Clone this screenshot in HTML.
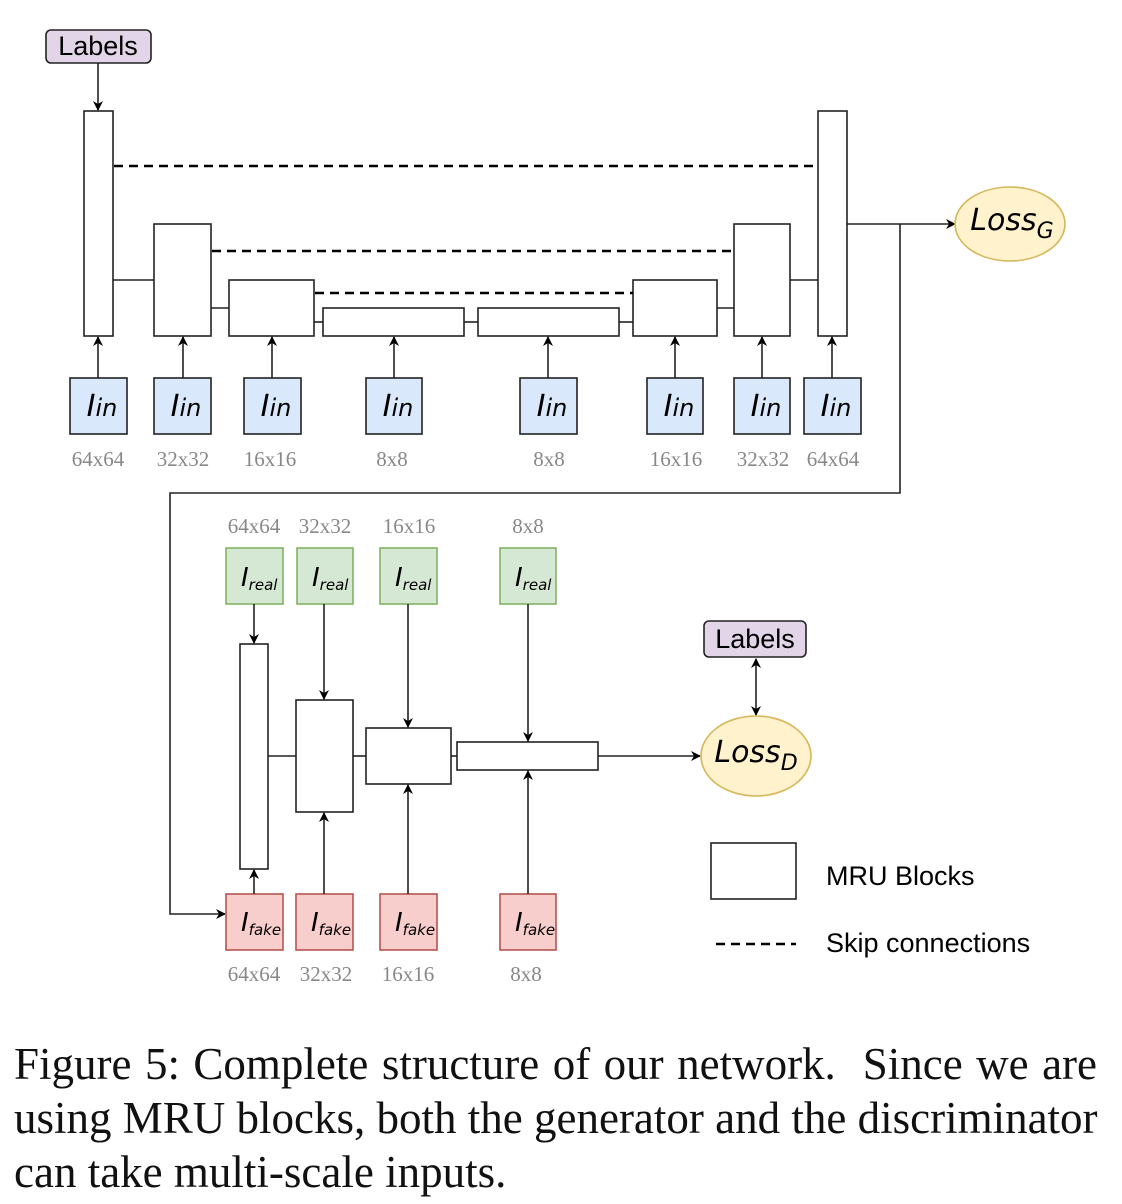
<!DOCTYPE html>
<html><head><meta charset="utf-8"><style>
html,body{margin:0;padding:0;background:#fff;}
svg{display:block;}
.cap{position:absolute;left:14px;width:1083px;font-family:"Liberation Serif",serif;font-size:45px;line-height:54px;color:#111;white-space:nowrap;}
.j{text-align:justify;text-align-last:justify;}
</style></head><body>
<div style="position:relative;width:1122px;height:1204px;">
<svg width="1122" height="1204" viewBox="0 0 1122 1204" xmlns="http://www.w3.org/2000/svg">
<defs>
<marker id="a" markerWidth="10" markerHeight="10" refX="9" refY="5" orient="auto" markerUnits="userSpaceOnUse">
<path d="M0,0 L10,5 L0,10 L3,5 z" fill="#000"/></marker>
<marker id="as" markerWidth="10" markerHeight="10" refX="1" refY="5" orient="auto" markerUnits="userSpaceOnUse">
<path d="M10,0 L0,5 L10,10 L7,5 z" fill="#000"/></marker>
</defs>
<g stroke="#222" stroke-width="1.6" fill="none">
<rect x="46" y="30" width="105" height="33" rx="5" fill="#e1d5e7"/>
<line x1="98" y1="63" x2="98" y2="110" marker-end="url(#a)"/>
<rect x="84" y="111" width="29" height="225" fill="#fff"/>
<rect x="154" y="224" width="57" height="112" fill="#fff"/>
<rect x="229" y="280" width="85" height="56" fill="#fff"/>
<rect x="323" y="308" width="141" height="28" fill="#fff"/>
<rect x="478" y="308" width="141" height="28" fill="#fff"/>
<rect x="633" y="280" width="84" height="56" fill="#fff"/>
<rect x="734" y="224" width="56" height="112" fill="#fff"/>
<rect x="818" y="111" width="29" height="225" fill="#fff"/>
<line x1="113" y1="280" x2="154" y2="280"/>
<line x1="211" y1="308" x2="229" y2="308"/>
<line x1="314" y1="322" x2="323" y2="322"/>
<line x1="464" y1="322" x2="478" y2="322"/>
<line x1="619" y1="322" x2="633" y2="322"/>
<line x1="717" y1="308" x2="734" y2="308"/>
<line x1="790" y1="280" x2="818" y2="280"/>
</g>
<g stroke="#000" stroke-width="2.5" stroke-dasharray="9,6">
<line x1="114" y1="166" x2="818" y2="166"/>
<line x1="212" y1="251" x2="734" y2="251"/>
<line x1="315" y1="293" x2="633" y2="293"/>
</g>
<g stroke="#222" stroke-width="1.6">
<rect x="70" y="378" width="57" height="56" fill="#dae8fc"/>
<rect x="154" y="378" width="57" height="56" fill="#dae8fc"/>
<rect x="244" y="378" width="57" height="56" fill="#dae8fc"/>
<rect x="366" y="378" width="56" height="56" fill="#dae8fc"/>
<rect x="520" y="378" width="57" height="56" fill="#dae8fc"/>
<rect x="647" y="378" width="56" height="56" fill="#dae8fc"/>
<rect x="734" y="378" width="56" height="56" fill="#dae8fc"/>
<rect x="804" y="378" width="57" height="56" fill="#dae8fc"/>
<line x1="98" y1="378" x2="98" y2="337" marker-end="url(#a)"/>
<line x1="183" y1="378" x2="183" y2="337" marker-end="url(#a)"/>
<line x1="272" y1="378" x2="272" y2="337" marker-end="url(#a)"/>
<line x1="394" y1="378" x2="394" y2="337" marker-end="url(#a)"/>
<line x1="548" y1="378" x2="548" y2="337" marker-end="url(#a)"/>
<line x1="675" y1="378" x2="675" y2="337" marker-end="url(#a)"/>
<line x1="762" y1="378" x2="762" y2="337" marker-end="url(#a)"/>
<line x1="832" y1="378" x2="832" y2="337" marker-end="url(#a)"/>
<line x1="847" y1="224" x2="955" y2="224" marker-end="url(#a)"/>
<polyline points="900,224 900,493 170,493 170,914 225,914" fill="none" marker-end="url(#a)"/>
<ellipse cx="1010" cy="224" rx="55" ry="37" fill="#fff2cc" stroke="#d6b656"/>
</g>
<g stroke="#222" stroke-width="1.6">
<rect x="226" y="548" width="57" height="56" fill="#d5e8d4" stroke="#82b366"/>
<rect x="297" y="548" width="56" height="56" fill="#d5e8d4" stroke="#82b366"/>
<rect x="380" y="548" width="57" height="56" fill="#d5e8d4" stroke="#82b366"/>
<rect x="500" y="548" width="56" height="56" fill="#d5e8d4" stroke="#82b366"/>
<rect x="226" y="894" width="57" height="56" fill="#f8cecc" stroke="#b85450"/>
<rect x="296" y="894" width="57" height="56" fill="#f8cecc" stroke="#b85450"/>
<rect x="380" y="894" width="57" height="56" fill="#f8cecc" stroke="#b85450"/>
<rect x="500" y="894" width="56" height="56" fill="#f8cecc" stroke="#b85450"/>
<rect x="240" y="644" width="28" height="225" fill="#fff"/>
<rect x="296" y="700" width="57" height="112" fill="#fff"/>
<rect x="366" y="728" width="85" height="56" fill="#fff"/>
<rect x="457" y="742" width="141" height="28" fill="#fff"/>
<line x1="268" y1="756" x2="296" y2="756"/>
<line x1="353" y1="756" x2="366" y2="756"/>
<line x1="451" y1="756" x2="457" y2="756"/>
<line x1="598" y1="756" x2="700" y2="756" marker-end="url(#a)"/>
<line x1="254" y1="604" x2="254" y2="643" marker-end="url(#a)"/>
<line x1="324" y1="604" x2="324" y2="699" marker-end="url(#a)"/>
<line x1="408" y1="604" x2="408" y2="727" marker-end="url(#a)"/>
<line x1="528" y1="604" x2="528" y2="741" marker-end="url(#a)"/>
<line x1="254" y1="894" x2="254" y2="870" marker-end="url(#a)"/>
<line x1="324" y1="894" x2="324" y2="813" marker-end="url(#a)"/>
<line x1="408" y1="894" x2="408" y2="785" marker-end="url(#a)"/>
<line x1="528" y1="894" x2="528" y2="771" marker-end="url(#a)"/>
<rect x="704" y="621" width="102" height="36" rx="5" fill="#e1d5e7"/>
<line x1="756" y1="659" x2="756" y2="715" marker-start="url(#as)" marker-end="url(#a)"/>
<ellipse cx="756" cy="756" rx="55" ry="40" fill="#fff2cc" stroke="#d6b656"/>
<rect x="711" y="843" width="85" height="56" fill="#fff"/>
</g>
<line x1="716" y1="944" x2="796" y2="944" stroke="#000" stroke-width="2.5" stroke-dasharray="9,6"/>
<g font-family="Liberation Sans,sans-serif" font-size="27" fill="#000">
<text x="98" y="55" text-anchor="middle">Labels</text>
<text x="755" y="648" text-anchor="middle">Labels</text>
<text x="826" y="885">MRU Blocks</text>
<text x="826" y="952">Skip connections</text>
</g>
<g font-family="DejaVu Sans,sans-serif" font-style="italic" font-size="30" fill="#000" text-anchor="middle">
<text x="102" y="416">I<tspan font-size="24">in</tspan></text>
<text x="186" y="416">I<tspan font-size="24">in</tspan></text>
<text x="276" y="416">I<tspan font-size="24">in</tspan></text>
<text x="398" y="416">I<tspan font-size="24">in</tspan></text>
<text x="552" y="416">I<tspan font-size="24">in</tspan></text>
<text x="679" y="416">I<tspan font-size="24">in</tspan></text>
<text x="766" y="416">I<tspan font-size="24">in</tspan></text>
<text x="836" y="416">I<tspan font-size="24">in</tspan></text>
<text x="1012" y="230" font-size="30">Loss<tspan font-size="22" dy="8">G</tspan></text>
<text x="756" y="762" font-size="30">Loss<tspan font-size="22" dy="8">D</tspan></text>
</g>
<g font-family="DejaVu Sans,sans-serif" font-style="italic" font-size="26" fill="#000">
<text x="241" y="586">I<tspan font-size="15" dy="4">real</tspan></text>
<text x="312" y="586">I<tspan font-size="15" dy="4">real</tspan></text>
<text x="395" y="586">I<tspan font-size="15" dy="4">real</tspan></text>
<text x="515" y="586">I<tspan font-size="15" dy="4">real</tspan></text>
<text x="241" y="931">I<tspan font-size="15" dy="4">fake</tspan></text>
<text x="311" y="931">I<tspan font-size="15" dy="4">fake</tspan></text>
<text x="395" y="931">I<tspan font-size="15" dy="4">fake</tspan></text>
<text x="515" y="931">I<tspan font-size="15" dy="4">fake</tspan></text>
</g>
<g font-family="Liberation Serif,serif" font-size="21" fill="#888" text-anchor="middle">
<text x="98" y="466">64x64</text><text x="183" y="466">32x32</text><text x="270" y="466">16x16</text>
<text x="392" y="466">8x8</text><text x="549" y="466">8x8</text><text x="676" y="466">16x16</text>
<text x="763" y="466">32x32</text><text x="833" y="466">64x64</text>
<text x="254" y="533">64x64</text><text x="325" y="533">32x32</text><text x="409" y="533">16x16</text><text x="528" y="533">8x8</text>
<text x="254" y="981">64x64</text><text x="326" y="981">32x32</text><text x="408" y="981">16x16</text><text x="526" y="981">8x8</text>
</g>
</svg>
<div class="cap j" style="top:1037px">Figure 5: Complete structure of our network. &nbsp;Since we are</div>
<div class="cap j" style="top:1091px">using MRU blocks, both the generator and the discriminator</div>
<div class="cap" style="top:1145px">can take multi-scale inputs.</div>
</div>
</body></html>
